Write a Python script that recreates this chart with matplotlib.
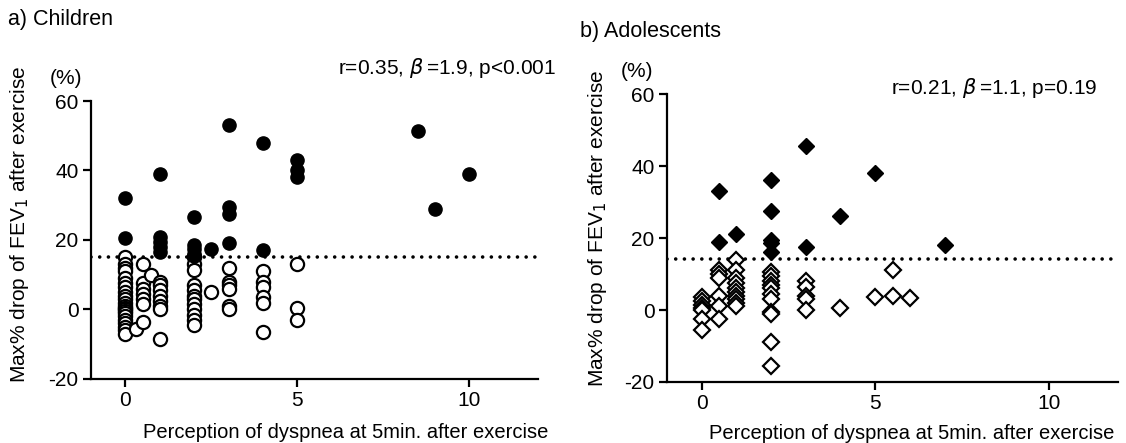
import numpy as np
import matplotlib
matplotlib.use("Agg")
import matplotlib.pyplot as plt

plt.rcParams["font.family"] = ["Liberation Sans", "DejaVu Sans"]
plt.rcParams["mathtext.fontset"] = "dejavusans"
plt.rcParams["axes.unicode_minus"] = False

# a) Children — filled = positive EIB, open = negative
ch_pos_x = [0, 0, 1, 1, 1, 1, 1, 2, 2, 2, 2, 2, 2.5, 3, 3, 3, 3, 4, 4, 5, 5, 5, 8.5, 9, 10]
ch_pos_y = [32, 20.5, 39, 21, 19.5, 18, 16.5, 26.5, 18.5, 17.5, 16, 15.5, 17.5,
            53, 29.5, 27.5, 19, 48, 17, 43, 40, 38, 51.5, 29, 39]

ch_neg_x = ([0] * 22 + [0.3] + [0.5] * 7 + [0.75] + [1] * 8 + [2] * 12 + [2.5]
            + [3] * 6 + [4] * 6 + [5] * 3)
ch_neg_y = ([15, 13, 12, 11, 9, 7.5, 6.5, 5, 4, 3, 2, 1, 0.5, 0, -0.5, -1, -2, -3, -4, -5, -6, -7]
            + [-5.5]
            + [13, 7.5, 6, 4.5, 3, 1.5, -3.5]
            + [10]
            + [8, 7, 5.5, 4, 2.5, 1, 0, -8.5]
            + [15, 13, 11.5, 7, 5.5, 4, 3, 1.5, 0, -1.5, -3, -4.5]
            + [5]
            + [12, 8, 7, 6, 1, 0]
            + [11, 8, 6.5, 3.5, 2, -6.5]
            + [13, 0.5, -3])

# b) Adolescents
ad_pos_x = [0.5, 0.5, 1, 2, 2, 2, 2, 2, 3, 3, 4, 5, 7]
ad_pos_y = [33, 19, 21, 36, 27.5, 19.5, 18.5, 16, 45.5, 17.5, 26, 38, 18]

ad_neg_x = ([0] * 7 + [0.5] * 6 + [1] * 10 + [2] * 11 + [3] * 5 + [4] + [5] + [5.5] * 2 + [6])
ad_neg_y = ([3.5, 2.5, 1.5, 0.5, 0, -2.5, -5.5]
            + [11, 10, 9, 4, 1, -2.5]
            + [14, 11, 9, 7.5, 6, 5, 4, 3, 2, 1]
            + [10.5, 9.5, 8, 7, 6, 4.5, 3, -0.5, -1, -9, -15.5]
            + [8, 6.5, 4, 3, 0]
            + [0.5] + [3.5] + [11, 4] + [3.3])

cutoff_children = 15
cutoff_adol = 14.2

fig = plt.figure(figsize=(11.26, 4.43), dpi=100)
fig.patch.set_facecolor("white")

ax1 = fig.add_axes([0.0808, 0.1445, 0.397, 0.6275])
ax2 = fig.add_axes([0.5924, 0.1377, 0.4005, 0.650])

def style(ax, xl, yl):
    ax.set_xlim(-1, 12)
    ax.set_ylim(-20, 60)
    ax.set_xticks([0, 5, 10])
    ax.set_yticks([-20, 0, 20, 40, 60])
    for s in ["top", "right"]:
        ax.spines[s].set_visible(False)
    for s in ["left", "bottom"]:
        ax.spines[s].set_linewidth(1.6)
    ax.tick_params(width=1.6, length=6, labelsize=15, direction="out", pad=3)
    ax.set_xlabel("Perception of dyspnea at 5min. after exercise", fontsize=14.5)
    ax.set_ylabel("Max% drop of FEV$_1$ after exercise", fontsize=15)
    ax.xaxis.set_label_coords(*xl)
    ax.yaxis.set_label_coords(*yl)

# children
ax1.axhline(cutoff_children, color="black", lw=2.6, ls=(0, (0.01, 2.4)),
            dash_capstyle="round", zorder=1)
ax1.plot(ch_neg_x, ch_neg_y, "o", ms=9.5, mfc="white", mec="black", mew=1.6,
         ls="none", zorder=3, clip_on=False)
ax1.plot(ch_pos_x, ch_pos_y, "o", ms=9.5, mfc="black", mec="black", mew=1.0,
         ls="none", zorder=4, clip_on=False)
style(ax1, (0.57, -0.16), (-0.135, 0.558))
ax1.text(-0.02, 1.045, "(%)", transform=ax1.transAxes, fontsize=15, ha="right", va="bottom")
ax1.text(1.04, 1.12, r"r=0.35, $\beta\,$=1.9, p<0.001", transform=ax1.transAxes,
         fontsize=15, ha="right", va="center")
fig.text(0.007, 0.955, "a) Children", fontsize=15.5, ha="left", va="center")

# adolescents
ax2.axhline(cutoff_adol, color="black", lw=2.6, ls=(0, (0.01, 2.4)),
            dash_capstyle="round", zorder=1)
ax2.plot(ad_neg_x, ad_neg_y, "D", ms=8, mfc="white", mec="black", mew=1.6,
         ls="none", zorder=3, clip_on=False)
ax2.plot(ad_pos_x, ad_pos_y, "D", ms=8, mfc="black", mec="black", mew=1.0,
         ls="none", zorder=4, clip_on=False)
style(ax2, (0.543, -0.145), (-0.128, 0.535))
ax2.text(-0.03, 1.045, "(%)", transform=ax2.transAxes, fontsize=15, ha="right", va="bottom")
ax2.text(0.955, 1.02, r"r=0.21, $\beta\,$=1.1, p=0.19", transform=ax2.transAxes,
         fontsize=15, ha="right", va="center")
fig.text(0.515, 0.93, "b) Adolescents", fontsize=15.5, ha="left", va="center")

fig.savefig("out.png", dpi=100, facecolor="white")
